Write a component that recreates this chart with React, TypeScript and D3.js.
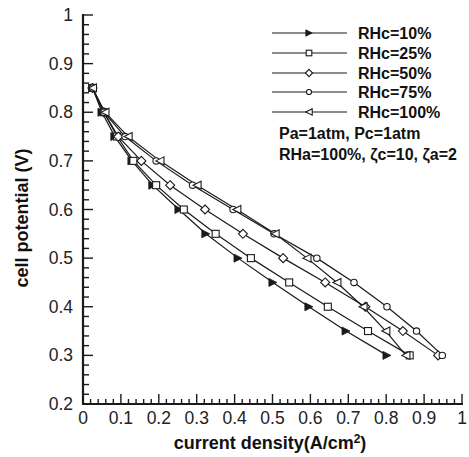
import React from "react";
import * as d3 from "d3";

const voltages = [0.85, 0.8, 0.75, 0.7, 0.65, 0.6, 0.55, 0.5, 0.45, 0.4, 0.35, 0.3];
const rh10 = [0.025, 0.05, 0.084, 0.129, 0.184, 0.253, 0.324, 0.409, 0.501, 0.596, 0.694, 0.802];
const rh25 = [0.025, 0.055, 0.09, 0.133, 0.193, 0.266, 0.35, 0.443, 0.544, 0.646, 0.752, 0.862];
const rh50 = [0.025, 0.055, 0.093, 0.154, 0.23, 0.322, 0.422, 0.528, 0.639, 0.745, 0.844, 0.937];
const rh75 = [0.025, 0.055, 0.111, 0.193, 0.289, 0.396, 0.504, 0.617, 0.715, 0.802, 0.88, 0.948];
const rh100 = [0.025, 0.058, 0.119, 0.203, 0.301, 0.406, 0.507, 0.591, 0.67, 0.739, 0.799, 0.852];
const seriesNames = ["RHc=10%", "RHc=25%", "RHc=50%", "RHc=75%", "RHc=100%"];
const seriesMarkers = ["triRight", "square", "diamond", "circle", "triLeft"];
const xTicks = [0, 0.1, 0.2, 0.3, 0.4, 0.5, 0.6, 0.7, 0.8, 0.9, 1];
const yTicks = [0.2, 0.3, 0.4, 0.5, 0.6, 0.7, 0.8, 0.9, 1];
const note1 = "Pa=1atm, Pc=1atm";
const note2 = "RHa=100%, ζc=10, ζa=2";

const W = 469, H = 457;
const X0 = 83, X1 = 462, Y0 = 404, Y1 = 15;
const x = d3.scaleLinear().domain([0, 1]).range([X0, X1]);
const y = d3.scaleLinear().domain([0.2, 1]).range([Y0, Y1]);
const ink = "#1a1a1a";

function marker(kind: string, cx: number, cy: number, key: any, k = 1) {
  const s = 4 * k;
  if (kind === "triRight")
    return <path key={key} d={`M${cx - s},${cy - s}L${cx + s},${cy}L${cx - s},${cy + s}Z`} fill={ink} stroke={ink} strokeWidth={0.8} />;
  if (kind === "triLeft")
    return <path key={key} d={`M${cx + s},${cy - s}L${cx - s},${cy}L${cx + s},${cy + s}Z`} fill="#fff" stroke={ink} strokeWidth={1.1} />;
  if (kind === "square")
    return <rect key={key} x={cx - 3.5 * k} y={cy - 3.5 * k} width={7 * k} height={7 * k} fill="#fff" stroke={ink} strokeWidth={1.1} />;
  if (kind === "diamond")
    return <path key={key} d={`M${cx},${cy - 4.5 * k}L${cx + 4.5 * k},${cy}L${cx},${cy + 4.5 * k}L${cx - 4.5 * k},${cy}Z`} fill="#fff" stroke={ink} strokeWidth={1.1} />;
  return <circle key={key} cx={cx} cy={cy} r={3.2 * k} fill="#fff" stroke={ink} strokeWidth={1.1} />;
}

export default function App() {
  const all = [rh10, rh25, rh50, rh75, rh100];
  const line = d3.line<[number, number]>().x(d => x(d[0])).y(d => y(d[1]));
  const xMinor = d3.range(0, 51).map(i => i * 0.02);
  const yMinor = d3.range(0, 41).map(i => 0.2 + i * 0.02);
  const legendX0 = 272, legendX1 = 347, legendMid = 309;
  const legendY = [33, 53, 73, 92, 112];
  return (
    <svg width={W} height={H} style={{ position: "absolute", left: 0, top: 0, background: "#fff" }}
      fontFamily="Liberation Sans, Arial, sans-serif">
      <rect x={0} y={0} width={W} height={H} fill="#fff" />
      {all.map((s, i) => (
        <path key={"l" + i} d={line(s.map((v, j) => [v, voltages[j]]) as any) || ""} fill="none" stroke={ink} strokeWidth={1.2} />
      ))}
      {all.map((s, i) => s.map((v, j) => marker(seriesMarkers[i], x(v), y(voltages[j]), `m${i}-${j}`)))}
      <line x1={X0} y1={Y1 - 1} x2={X0} y2={Y0 + 1} stroke={ink} strokeWidth={2.2} />
      <line x1={X0 - 1} y1={Y0} x2={X1 + 1} y2={Y0} stroke={ink} strokeWidth={2.2} />
      {xMinor.map((v, i) => (
        <line key={"xm" + i} x1={x(v)} x2={x(v)} y1={Y0} y2={Y0 - (i % 5 === 0 ? 10 : 5)} stroke={ink} strokeWidth={1.4} />
      ))}
      {yMinor.map((v, i) => (
        <line key={"ym" + i} x1={X0} x2={X0 + (i % 5 === 0 ? 10 : 6)} y1={y(v)} y2={y(v)} stroke={ink} strokeWidth={1.4} />
      ))}
      {xTicks.map(v => (
        <text key={"xt" + v} x={x(v)} y={Y0 + 20} textAnchor="middle" fontSize={17.5} fill="#222">{String(v)}</text>
      ))}
      {yTicks.map(v => (
        <text key={"yt" + v} x={X0 - 10} y={y(v) + 6} textAnchor="end" fontSize={17.5} fill="#222">{String(v)}</text>
      ))}
      <text x={270} y={449} textAnchor="middle" fontSize={18} fontWeight="bold" fill="#111">
        current density(A/cm<tspan dy={-6} fontSize={12}>2</tspan><tspan dy={6}>)</tspan>
      </text>
      <text transform="translate(28,218) rotate(-90)" textAnchor="middle" fontSize={18} fontWeight="bold" fill="#111">cell potential (V)</text>
      {seriesNames.map((n, i) => (
        <g key={"lg" + i}>
          <line x1={legendX0} x2={legendX1} y1={legendY[i]} y2={legendY[i]} stroke={ink} strokeWidth={1.2} />
          {marker(seriesMarkers[i], legendMid, legendY[i], "lm" + i, 0.8)}
          <text x={358} y={legendY[i] + 6} fontSize={16} fontWeight="bold" fill="#111">{n}</text>
        </g>
      ))}
      <text x={279} y={139} fontSize={16} fontWeight="bold" fill="#111">{note1}</text>
      <text x={279} y={160} fontSize={16} fontWeight="bold" fill="#111">{note2}</text>
    </svg>
  );
}
